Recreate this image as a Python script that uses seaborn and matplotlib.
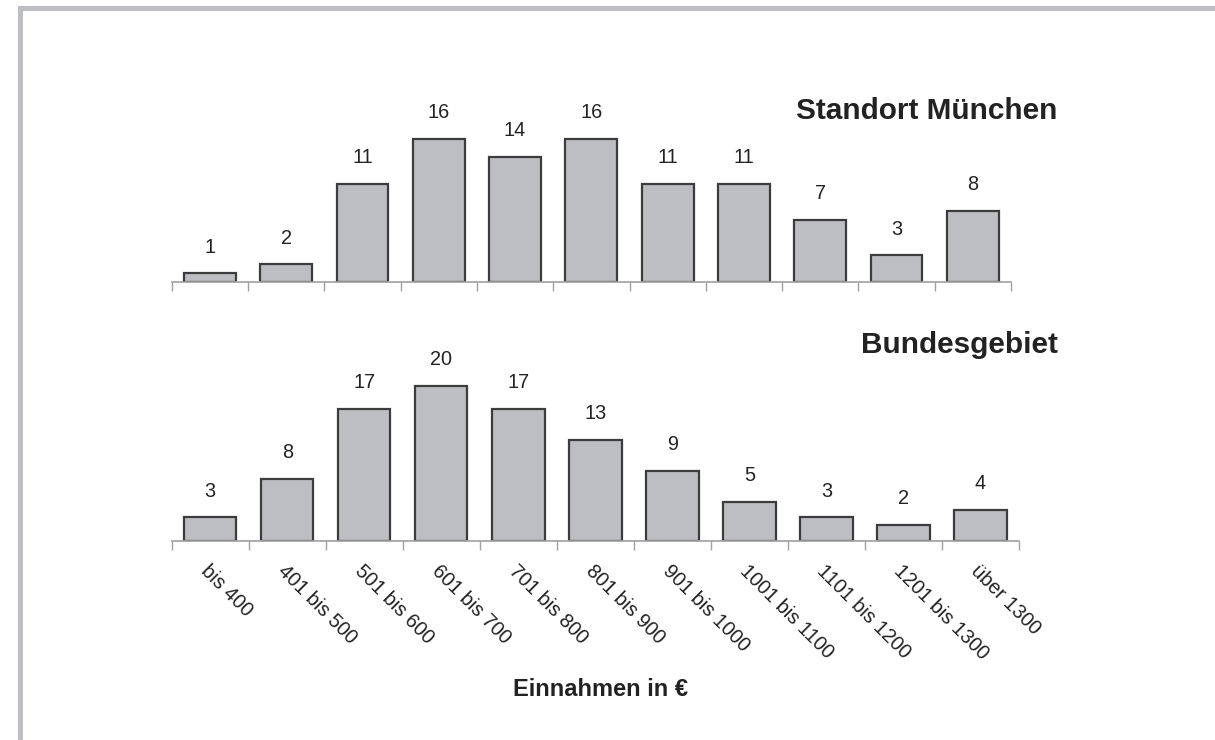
import numpy as np
import pandas as pd
import matplotlib
matplotlib.use("Agg")
import matplotlib.pyplot as plt
from matplotlib.patches import Rectangle
import seaborn as sns

# Income brackets and share per bracket (percent)
categories = ["bis 400", "401 bis 500", "501 bis 600", "601 bis 700", "701 bis 800",
              "801 bis 900", "901 bis 1000", "1001 bis 1100", "1101 bis 1200",
              "1201 bis 1300", "über 1300"]
muenchen = [1, 2, 11, 16, 14, 16, 11, 11, 7, 3, 8]
bundesgebiet = [3, 8, 17, 20, 17, 13, 9, 5, 3, 2, 4]

title_top = "Standort München"
title_bottom = "Bundesgebiet"
xlabel = "Einnahmen in €"

sns.set_style("white")
plt.rcParams["font.family"] = ["Liberation Sans", "DejaVu Sans"]

W, H = 1215, 740
fig = plt.figure(figsize=(W / 100, H / 100), dpi=100)
fig.patch.set_facecolor("white")

BAR_FILL = "#bdbec2"
BAR_EDGE = "#3c3c3c"
AXIS_GREY = "#a0a0a0"
TEXT = "#222222"


def px_box(x0, x1, ybase, height_px):
    return [x0 / W, 1 - ybase / H, (x1 - x0) / W, height_px / H]


def draw_panel(ax, values, ymax, show_labels):
    df = pd.DataFrame({"cat": categories, "val": values})
    sns.barplot(data=df, x="cat", y="val", ax=ax, color=BAR_FILL, saturation=1,
                width=0.68, edgecolor=BAR_EDGE, linewidth=1.6, errorbar=None)
    ax.set_xlim(-0.5, len(categories) - 0.5)
    ax.set_ylim(0, ymax)
    for s in ("top", "left", "right"):
        ax.spines[s].set_visible(False)
    ax.spines["bottom"].set_color(AXIS_GREY)
    ax.spines["bottom"].set_linewidth(1.2)
    ax.set_yticks([])
    ax.set_xlabel("")
    ax.set_ylabel("")
    # boundary ticks between brackets
    ax.set_xticks(np.arange(-0.5, len(categories)), labels=[""] * (len(categories) + 1))
    ax.tick_params(axis="x", which="major", bottom=True, direction="out", length=6.5,
                   width=1.0, color=AXIS_GREY)
    # bracket labels sit at the bar centres
    ax.set_xticks(np.arange(len(categories)), minor=True)
    if show_labels:
        ax.set_xticklabels(categories, minor=True, rotation=-45, ha="left",
                           rotation_mode="anchor", fontsize=14.3, color=TEXT)
    else:
        ax.set_xticklabels([""] * len(categories), minor=True)
    ax.tick_params(axis="x", which="minor", bottom=True, length=0, pad=15)
    for i, v in enumerate(values):
        ax.annotate(str(v), xy=(i, v), xytext=(0, 15), textcoords="offset points",
                    ha="center", va="baseline", fontsize=14.3, color=TEXT)


ax_top = fig.add_axes(px_box(171.7, 1011.0, 282.3, 200))
draw_panel(ax_top, muenchen, 200 / 8.95, show_labels=False)

ax_bot = fig.add_axes(px_box(171.7, 1019.0, 540.7, 200))
draw_panel(ax_bot, bundesgebiet, 200 / 7.75, show_labels=True)

fig.text(1057 / W, 1 - 119 / H, title_top, ha="right", va="baseline",
         fontsize=21.4, fontweight="bold", color=TEXT)
fig.text(1058 / W, 1 - 353.3 / H, title_bottom, ha="right", va="baseline",
         fontsize=21.4, fontweight="bold", color=TEXT)
fig.text(600.3 / W, 1 - 696.5 / H, xlabel, ha="center", va="baseline",
         fontsize=17, fontweight="bold", color=TEXT)

# light frame along the top and left edges
frame = "#bdbec2"
fig.patches.append(Rectangle((18 / W, 1 - 11 / H), 1 - 18 / W, 5 / H,
                             transform=fig.transFigure, facecolor=frame,
                             edgecolor="none", zorder=0))
fig.patches.append(Rectangle((18 / W, 0), 5 / W, 1 - 6 / H,
                             transform=fig.transFigure, facecolor=frame,
                             edgecolor="none", zorder=0))

fig.savefig("out.png", dpi=100, facecolor="white")
